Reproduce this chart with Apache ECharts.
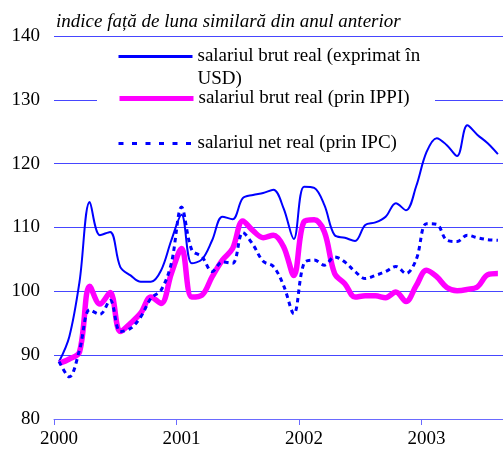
<!DOCTYPE html>
<html>
<head>
<meta charset="utf-8">
<script src="https://cdn.jsdelivr.net/npm/echarts@6/dist/echarts.min.js"></script>
<style>
    html, body { margin: 0; padding: 0; background: #fff; }
    #chart { width: 503px; height: 452px; }
</style>
</head>
<body>
<div id="chart"></div>
<script>
// monthly categories, Jan 2000 - Aug 2003
const months = [
    '2000-01','2000-02','2000-03','2000-04','2000-05','2000-06','2000-07','2000-08','2000-09','2000-10','2000-11','2000-12',
    '2001-01','2001-02','2001-03','2001-04','2001-05','2001-06','2001-07','2001-08','2001-09','2001-10','2001-11','2001-12',
    '2002-01','2002-02','2002-03','2002-04','2002-05','2002-06','2002-07','2002-08','2002-09','2002-10','2002-11','2002-12',
    '2003-01','2003-02','2003-03','2003-04','2003-05','2003-06','2003-07','2003-08'
];

const brutUSD = [89, 92.9, 101.5, 114, 108.8, 109.3, 103.8, 102.5, 101.5, 101.5, 103.3, 108,
    112, 104.4, 105, 108, 111.7, 111.3, 114.6, 115.1, 115.4, 115.9, 113, 108.2,
    116.4, 116.2, 113.5, 108.8, 108.4, 107.9, 110.4, 110.8, 111.7, 113.8, 112.7, 116.5,
    121.8, 124, 122.9, 121.2, 126, 124.5, 123.2, 121.5];

const brutIPPI = [88.7, 89.4, 90.5, 100.8, 98, 99.8, 93.7, 95, 96.6, 99.1, 98.1, 102.8,
    106.7, 99.1, 99.4, 102.3, 104.9, 106.7, 111, 109.5, 108.4, 108.8, 107, 102.5,
    110.9, 111.2, 109.3, 102.8, 101.2, 99.1, 99.3, 99.3, 99, 99.9, 98.4, 100.9,
    103.3, 102.3, 100.6, 100.1, 100.3, 100.7, 102.6, 102.8];

const netIPC = [89, 86.6, 90.8, 97.1, 96.4, 98.6, 93.7, 94.2, 96, 98.9, 100.2, 104.4,
    113.2, 106.5, 105.4, 103.1, 104.6, 104.4, 109.2, 107.3, 104.7, 103.9, 100.9, 96.5,
    104.4, 104.9, 104.1, 105.4, 104.6, 103.1, 102, 102.5, 103.1, 103.9, 102.8, 105,
    110.6, 110.5, 108, 107.8, 108.8, 108.4, 108.1, 108];

const yTicks = { min: 80, max: 140, step: 10 };

const names = [
    'salariul brut real (exprimat în USD)',
    'salariul brut real (prin IPPI)',
    'salariul net real (prin IPC)'
];

const serif = '"Liberation Serif", "DejaVu Serif", serif';

let myChart = echarts.init(document.getElementById('chart'));

// one legend block per series, so each can sit where it sits in the picture
function legendAt(top, name, lineStyle, formatter) {
    return {
        orient: 'vertical',
        left: 117,
        top: top,
        padding: 0,
        itemWidth: 74,
        itemHeight: 23,
        itemGap: 0,
        data: [name],
        selectedMode: false,
        formatter: formatter,
        // hide the marker that line series put in the middle of the icon
        itemStyle: { color: 'rgba(0,0,0,0)', borderWidth: 0, opacity: 0 },
        lineStyle: lineStyle,
        textStyle: {
            fontFamily: serif,
            fontSize: 19,
            lineHeight: 23,
            color: '#000'
        }
    };
}

let option = {
    animation: false,
    title: {
        text: 'indice față de luna similară din anul anterior',
        left: 56,
        top: 10,
        padding: 0,
        textStyle: {
            fontFamily: serif,
            fontSize: 19,
            fontStyle: 'italic',
            fontWeight: 'normal',
            lineHeight: 23,
            color: '#000'
        }
    },
    legend: [
        legendAt(22, names[0], { width: 3 }, function () {
            return '\nsalariul brut real (exprimat în\nUSD)';
        }),
        legendAt(87, names[1], { width: 5 }),
        legendAt(132, names[2], { width: 3, type: [5, 8.5] })
    ],
    // white patch under the legend that hides the 130 grid line
    graphic: [{
        type: 'rect',
        z: 1,
        shape: { x: 97, y: 90, width: 338, height: 20 },
        style: { fill: '#fff' }
    }],
    grid: {
        left: 54,
        top: 36,
        bottom: 33,
        width: 459.4,
        containLabel: false
    },
    xAxis: {
        type: 'category',
        data: months,
        boundaryGap: true,
        axisLine: {
            lineStyle: { color: '#6a6aff', width: 1 }
        },
        axisTick: {
            show: true,
            interval: 11,
            length: 6,
            lineStyle: { color: '#6a6aff' }
        },
        axisLabel: {
            interval: 11,
            margin: 11,
            fontFamily: serif,
            fontSize: 19,
            color: '#000',
            formatter: function (v) {
                return v.slice(0, 4);
            }
        },
        splitLine: { show: false }
    },
    yAxis: {
        type: 'value',
        min: yTicks.min,
        max: yTicks.max,
        interval: yTicks.step,
        axisLine: { show: false },
        axisTick: { show: false },
        axisLabel: {
            margin: 14,
            fontFamily: serif,
            fontSize: 19,
            color: '#000'
        },
        splitLine: {
            lineStyle: { color: '#4646ff', width: 1 }
        }
    },
    series: [
        {
            name: names[0],
            type: 'line',
            data: brutUSD,
            symbol: 'none',
            smooth: 0.35,
            lineStyle: { color: '#0000ff', width: 2 },
            itemStyle: { color: '#0000ff' }
        },
        {
            name: names[1],
            type: 'line',
            data: brutIPPI,
            symbol: 'none',
            smooth: 0.35,
            lineStyle: { color: '#ff00ff', width: 5.5 },
            itemStyle: { color: '#ff00ff' }
        },
        {
            name: names[2],
            type: 'line',
            data: netIPC,
            symbol: 'none',
            smooth: 0.35,
            lineStyle: { color: '#0000ff', width: 3, type: [4.5, 4] },
            itemStyle: { color: '#0000ff' }
        }
    ]
};

myChart.setOption(option);
window.addEventListener('resize', function () {
    myChart.resize();
});
</script>
</body>
</html>
